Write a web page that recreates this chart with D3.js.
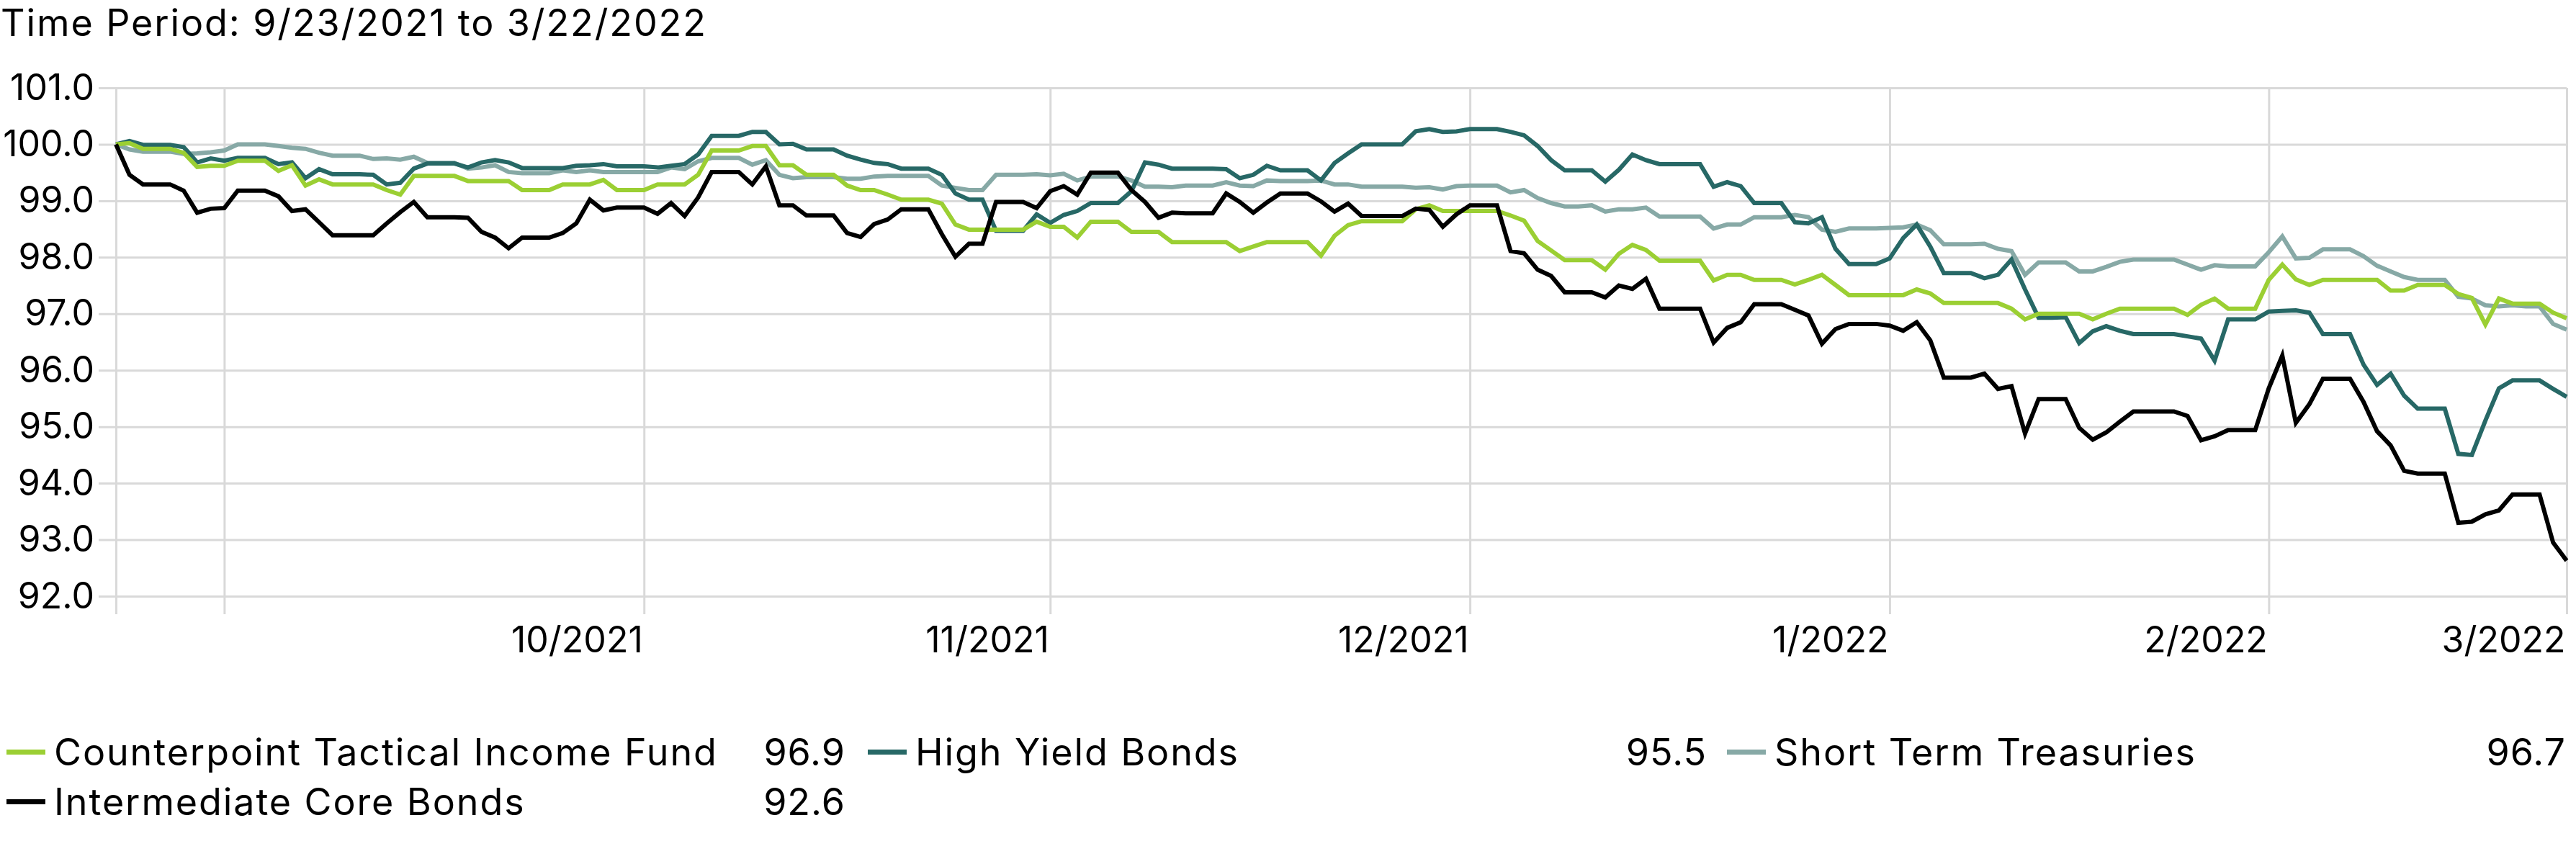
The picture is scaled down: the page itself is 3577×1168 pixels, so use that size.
<!DOCTYPE html>
<html>
<head>
<meta charset="utf-8">
<script src="https://cdn.jsdelivr.net/npm/d3@7"></script>
<style>
  body { margin: 0; background: #fff; }
  svg { display: block; font-family: Inter, sans-serif; }
</style>
</head>
<body>
<svg></svg>
<script>
// daily index values, 9/22/2021 (base 100) to 3/22/2022
const startDay = '2021-09-22'
const endDay = '2022-03-22'

const fund = [
  100.00, 100.02, 99.92, 99.92, 99.92, 99.85, 99.60, 99.62, 99.62, 99.71,
  99.71, 99.71, 99.53, 99.63, 99.27, 99.38, 99.29, 99.29, 99.29, 99.29,
  99.19, 99.11, 99.44, 99.44, 99.44, 99.44, 99.35, 99.35, 99.35, 99.35,
  99.19, 99.19, 99.19, 99.29, 99.29, 99.29, 99.37, 99.19, 99.19, 99.19,
  99.29, 99.29, 99.29, 99.46, 99.89, 99.89, 99.89, 99.97, 99.97, 99.63,
  99.63, 99.46, 99.46, 99.46, 99.27, 99.19, 99.19, 99.11, 99.02, 99.02,
  99.02, 98.95, 98.58, 98.49, 98.49, 98.49, 98.49, 98.49, 98.63, 98.54,
  98.54, 98.35, 98.63, 98.63, 98.63, 98.45, 98.45, 98.45, 98.27, 98.27,
  98.27, 98.27, 98.27, 98.11, 98.19, 98.27, 98.27, 98.27, 98.27, 98.03,
  98.38, 98.57, 98.64, 98.64, 98.64, 98.64, 98.85, 98.92, 98.82, 98.82,
  98.82, 98.82, 98.82, 98.74, 98.65, 98.29, 98.12, 97.95, 97.95, 97.95,
  97.78, 98.06, 98.22, 98.13, 97.94, 97.94, 97.94, 97.94, 97.59, 97.69,
  97.69, 97.60, 97.60, 97.60, 97.52, 97.60, 97.69, 97.51, 97.33, 97.33,
  97.33, 97.33, 97.33, 97.43, 97.36, 97.19, 97.19, 97.19, 97.19, 97.19,
  97.09, 96.90, 97.00, 97.00, 97.00, 97.00, 96.90, 97.00, 97.09, 97.09,
  97.09, 97.09, 97.09, 96.98, 97.16, 97.27, 97.09, 97.09, 97.09, 97.60,
  97.87, 97.61, 97.51, 97.60, 97.60, 97.60, 97.60, 97.60, 97.41, 97.41,
  97.51, 97.51, 97.51, 97.35, 97.28, 96.81, 97.27, 97.18, 97.18, 97.18,
  97.02, 96.92
]

const highYield = [
  100.00, 100.06, 99.99, 99.99, 99.99, 99.95, 99.68, 99.75, 99.71, 99.76,
  99.76, 99.76, 99.65, 99.68, 99.40, 99.56, 99.47, 99.47, 99.47, 99.46,
  99.29, 99.32, 99.57, 99.66, 99.66, 99.66, 99.59, 99.68, 99.72, 99.68,
  99.58, 99.58, 99.58, 99.58, 99.62, 99.63, 99.65, 99.61, 99.61, 99.61,
  99.59, 99.62, 99.65, 99.82, 100.15, 100.15, 100.15, 100.22, 100.22, 100.00,
  100.01, 99.91, 99.91, 99.91, 99.80, 99.73, 99.67, 99.65, 99.57, 99.57,
  99.57, 99.46, 99.13, 99.02, 99.02, 98.47, 98.47, 98.47, 98.76, 98.61,
  98.75, 98.82, 98.96, 98.96, 98.96, 99.17, 99.68, 99.64, 99.57, 99.57,
  99.57, 99.57, 99.56, 99.40, 99.46, 99.62, 99.54, 99.54, 99.54, 99.36,
  99.67, 99.84, 100.00, 100.00, 100.00, 100.00, 100.23, 100.27, 100.22, 100.23,
  100.27, 100.27, 100.27, 100.22, 100.16, 99.97, 99.72, 99.54, 99.54, 99.54,
  99.34, 99.55, 99.82, 99.72, 99.65, 99.65, 99.65, 99.65, 99.25, 99.33,
  99.26, 98.96, 98.96, 98.96, 98.62, 98.60, 98.71, 98.15, 97.88, 97.88,
  97.88, 97.98, 98.34, 98.58, 98.19, 97.72, 97.72, 97.72, 97.63, 97.69,
  97.96, 97.43, 96.93, 96.93, 96.94, 96.48, 96.69, 96.78, 96.70, 96.64,
  96.64, 96.64, 96.64, 96.60, 96.56, 96.17, 96.90, 96.90, 96.90, 97.04,
  97.05, 97.06, 97.02, 96.64, 96.64, 96.64, 96.10, 95.74, 95.94, 95.55,
  95.32, 95.32, 95.32, 94.52, 94.50, 95.11, 95.68, 95.82, 95.82, 95.82,
  95.67, 95.53
]

const treasuries = [
  100.00, 99.91, 99.87, 99.87, 99.87, 99.83, 99.84, 99.86, 99.89, 100.00,
  100.00, 100.00, 99.97, 99.94, 99.92, 99.85, 99.80, 99.80, 99.80, 99.74,
  99.75, 99.73, 99.78, 99.67, 99.67, 99.67, 99.57, 99.59, 99.63, 99.51,
  99.49, 99.49, 99.49, 99.54, 99.51, 99.54, 99.51, 99.51, 99.51, 99.51,
  99.51, 99.59, 99.56, 99.70, 99.76, 99.76, 99.76, 99.64, 99.72, 99.46,
  99.40, 99.42, 99.42, 99.42, 99.39, 99.39, 99.43, 99.44, 99.44, 99.44,
  99.44, 99.27, 99.23, 99.19, 99.19, 99.46, 99.46, 99.46, 99.47, 99.45,
  99.48, 99.36, 99.43, 99.43, 99.43, 99.36, 99.25, 99.25, 99.24, 99.27,
  99.27, 99.27, 99.33, 99.27, 99.26, 99.36, 99.35, 99.35, 99.35, 99.36,
  99.29, 99.29, 99.25, 99.25, 99.25, 99.25, 99.23, 99.24, 99.20, 99.26,
  99.27, 99.27, 99.27, 99.15, 99.19, 99.05, 98.96, 98.90, 98.90, 98.92,
  98.81, 98.85, 98.85, 98.88, 98.72, 98.72, 98.72, 98.72, 98.51, 98.58,
  98.58, 98.71, 98.71, 98.71, 98.75, 98.71, 98.49, 98.45, 98.51, 98.51,
  98.51, 98.52, 98.53, 98.58, 98.48, 98.23, 98.23, 98.23, 98.24, 98.15,
  98.11, 97.69, 97.91, 97.91, 97.91, 97.75, 97.75, 97.83, 97.92, 97.96,
  97.96, 97.96, 97.96, 97.87, 97.78, 97.86, 97.84, 97.84, 97.84, 98.09,
  98.37, 97.98, 97.99, 98.14, 98.14, 98.14, 98.02, 97.85, 97.75, 97.65,
  97.60, 97.60, 97.60, 97.30, 97.27, 97.15, 97.13, 97.15, 97.13, 97.13,
  96.82, 96.72
]

const coreBonds = [
  100.00, 99.46, 99.29, 99.29, 99.29, 99.18, 98.79, 98.86, 98.87, 99.18,
  99.18, 99.18, 99.08, 98.82, 98.85, 98.62, 98.39, 98.39, 98.39, 98.39,
  98.60, 98.80, 98.98, 98.71, 98.71, 98.71, 98.70, 98.45, 98.35, 98.16,
  98.35, 98.35, 98.35, 98.43, 98.60, 99.02, 98.83, 98.88, 98.88, 98.88,
  98.77, 98.96, 98.73, 99.06, 99.51, 99.51, 99.51, 99.29, 99.61, 98.92,
  98.92, 98.74, 98.74, 98.74, 98.43, 98.36, 98.59, 98.67, 98.85, 98.85,
  98.85, 98.41, 98.01, 98.24, 98.24, 98.98, 98.98, 98.98, 98.87, 99.17,
  99.26, 99.11, 99.50, 99.50, 99.50, 99.19, 98.98, 98.70, 98.79, 98.78,
  98.78, 98.78, 99.13, 98.98, 98.79, 98.97, 99.13, 99.13, 99.13, 98.99,
  98.81, 98.95, 98.73, 98.73, 98.73, 98.73, 98.86, 98.84, 98.54, 98.76,
  98.92, 98.92, 98.92, 98.11, 98.07, 97.78, 97.67, 97.38, 97.38, 97.38,
  97.29, 97.50, 97.44, 97.62, 97.09, 97.09, 97.09, 97.09, 96.49, 96.75,
  96.85, 97.17, 97.17, 97.17, 97.07, 96.97, 96.47, 96.73, 96.82, 96.82,
  96.82, 96.79, 96.70, 96.85, 96.53, 95.87, 95.87, 95.87, 95.94, 95.67,
  95.72, 94.88, 95.49, 95.49, 95.49, 94.98, 94.77, 94.90, 95.09, 95.27,
  95.27, 95.27, 95.27, 95.19, 94.76, 94.83, 94.94, 94.94, 94.94, 95.68,
  96.26, 95.07, 95.40, 95.85, 95.85, 95.85, 95.44, 94.92, 94.67, 94.22,
  94.17, 94.17, 94.17, 93.30, 93.32, 93.45, 93.52, 93.80, 93.80, 93.80,
  92.95, 92.63
]

const seriesNames = ['Counterpoint Tactical Income Fund', 'High Yield Bonds', 'Short Term Treasuries', 'Intermediate Core Bonds']
const endValues = ['96.9', '95.5', '96.7', '92.6']
const colors = ['#9bcf33', '#276866', '#87a9a6', '#000000']

const yTicks = [92, 93, 94, 95, 96, 97, 98, 99, 100, 101]
const xTickDays = ['2021-09-22', '2021-09-30', '2021-10-31', '2021-11-30', '2021-12-31', '2022-01-31', '2022-02-28', '2022-03-22']
const xTickLabels = ['', '', '10/2021', '11/2021', '12/2021', '1/2022', '2/2022', '3/2022']

const title = 'Time Period: 9/23/2021 to 3/22/2022'

const width = 3577
const height = 1168
const margin = ({ top: 122, right: 13, bottom: 340, left: 161 })
const fontSize = 50
const font = 'Inter, sans-serif'

const parseDay = d3.timeParse('%Y-%m-%d')
const days = d3.timeDay.range(parseDay(startDay), d3.timeDay.offset(parseDay(endDay), 1))

const series = [fund, highYield, treasuries, coreBonds].map((values, i) => ({
  name: seriesNames[i],
  color: colors[i],
  last: endValues[i],
  points: values.map((v, j) => ({ day: days[j], value: v }))
}))

const x = d3.scaleTime()
  .domain([parseDay(startDay), parseDay(endDay)])
  .range([margin.left, width - margin.right])

const y = d3.scaleLinear()
  .domain([92, 101])
  .range([height - margin.bottom, margin.top])

const svg = d3.select('svg')
  .attr('width', width)
  .attr('height', height)

svg.append('text')
  .attr('x', 1)
  .attr('y', 50)
  .attr('font-size', 52)
  .attr('letter-spacing', 1.9)
  .attr('fill', '#000')
  .text(title)

// horizontal grid + y labels
svg.append('g')
  .attr('transform', `translate(${margin.left - 24},0)`)
  .call(d3.axisLeft(y)
    .tickValues(yTicks)
    .tickFormat(d3.format('.1f'))
    .tickSize(-(width - margin.right - margin.left + 24))
    .tickPadding(6))
  .call(g => g.select('.domain').remove())
  .call(g => g.selectAll('.tick line').attr('stroke', '#d9d9d9').attr('stroke-width', 3))
  .call(g => g.selectAll('.tick text')
    .attr('font-size', fontSize)
    .attr('font-family', font)
    .attr('fill', '#000'))

// vertical grid at month ends + x labels
const xBottom = height - margin.bottom + 25
svg.append('g')
  .attr('transform', `translate(0,${xBottom})`)
  .call(d3.axisBottom(x)
    .tickValues(xTickDays.map(parseDay))
    .tickFormat((d, i) => xTickLabels[i])
    .tickSize(-(xBottom - margin.top)))
  .call(g => g.select('.domain').remove())
  .call(g => g.selectAll('.tick line').attr('stroke', '#d9d9d9').attr('stroke-width', 3))
  .call(g => g.selectAll('.tick text')
    .attr('font-size', fontSize)
    .attr('font-family', font)
    .attr('fill', '#000')
    .attr('text-anchor', 'end')
    .attr('x', -2)
    .attr('y', 17))

const line = d3.line()
  .x(d => x(d.day))
  .y(d => y(d.value))

// draw back to front
const drawOrder = [2, 1, 0, 3]
svg.append('g')
  .attr('fill', 'none')
  .attr('stroke-width', 6)
  .attr('stroke-linejoin', 'miter')
  .selectAll('path')
  .data(drawOrder.map(i => series[i]))
  .join('path')
  .attr('stroke', d => d.color)
  .attr('d', d => line(d.points))

// legend, three columns
const colX = [9, 1205, 2398]
const colW = 1165
const rowY = [1063, 1132]

const legend = svg.append('g')
  .attr('font-size', 52)
  .selectAll('g')
  .data(series)
  .join('g')
  .attr('transform', (d, i) => `translate(${colX[i % 3]},${rowY[Math.floor(i / 3)]})`)

legend.append('rect')
  .attr('x', 0)
  .attr('y', -22)
  .attr('width', 54)
  .attr('height', 7)
  .attr('fill', d => d.color)

legend.append('text')
  .attr('x', 66)
  .attr('letter-spacing', 1.9)
  .text(d => d.name)

legend.append('text')
  .attr('x', colW)
  .attr('text-anchor', 'end')
  .attr('letter-spacing', 1)
  .text(d => d.last)
</script>
</body>
</html>
